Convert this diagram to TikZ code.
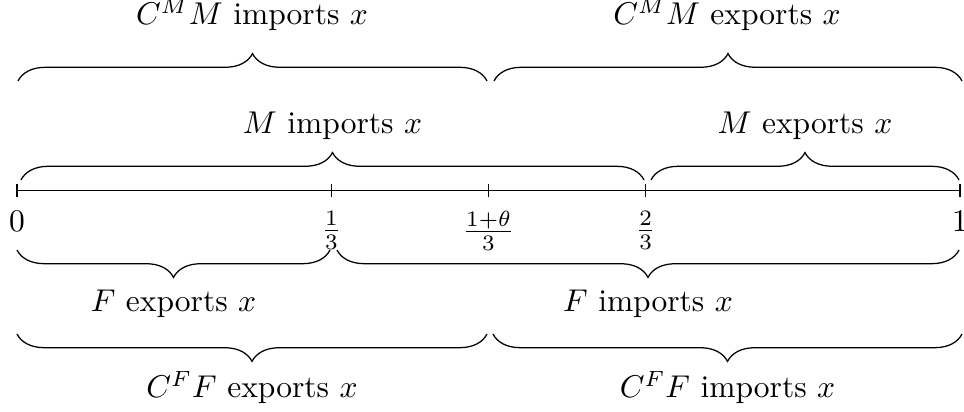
\documentclass[tikz,border=0pt]{standalone}
\usetikzlibrary{decorations.pathreplacing}
\begin{document}
\begin{tikzpicture}[x=0.3175pt,y=-0.3175pt,
  braceup/.style={decorate,decoration={brace,amplitude=8.7pt}},
  bracedown/.style={decorate,decoration={brace,mirror,amplitude=8.7pt}},
  lbl/.style={anchor=base,inner sep=0pt},
  ticklbl/.style={anchor=north,inner sep=0pt},
  tickmark/.style={line width=0.4pt}]
\useasboundingbox (0,0) rectangle (964,412);
% axis
\coordinate (A0) at (17,190.7);
\coordinate (A1) at (331.3,190.7);
\coordinate (AT) at (488.5,190.7);
\coordinate (A2) at (645.7,190.7);
\coordinate (A3) at (960,190.7);
\draw (A0) -- (A3);
\foreach \p in {A0,A1,AT,A2,A3}{
  \draw[tickmark] ([yshift=1.97pt]\p) -- ([yshift=-1.97pt]\p);
}
\node[ticklbl] (t0) at (17,211) {$0$};
\node[ticklbl] (t1) at (331.3,211) {$\frac{1}{3}$};
\node[ticklbl] (tt) at (488.5,211) {$\frac{1+\theta}{3}$};
\node[ticklbl] (t2) at (645.7,211) {$\frac{2}{3}$};
\node[ticklbl] (t3) at (960,211) {$1$};
% brace end points
\coordinate (ma) at (21,180);  \coordinate (mb) at (644,180);
\coordinate (mc) at (651,180); \coordinate (md) at (959,180);
\coordinate (ca) at (18,81);   \coordinate (cb) at (487,81);
\coordinate (cc) at (494,81);  \coordinate (cd) at (962,81);
\coordinate (fa) at (17,250);  \coordinate (fb) at (330,250);
\coordinate (fc) at (337,250); \coordinate (fd) at (959,250);
\coordinate (ga) at (17,334);  \coordinate (gb) at (487,334);
\coordinate (gc) at (493,334); \coordinate (gd) at (962,334);
\draw[braceup] (ma) -- (mb);
\draw[braceup] (mc) -- (md);
\draw[braceup] (ca) -- (cb);
\draw[braceup] (cc) -- (cd);
\draw[bracedown] (fa) -- (fb);
\draw[bracedown] (fc) -- (fd);
\draw[bracedown] (ga) -- (gb);
\draw[bracedown] (gc) -- (gd);
% labels
\node[lbl] (cmi) at (252,25) {$C^M M$ imports $x$};
\node[lbl] (cme) at (727,25) {$C^M M$ exports $x$};
\node[lbl] (mi) at (332.5,134) {$M$ imports $x$};
\node[lbl] (me) at (805,134) {$M$ exports $x$};
\node[lbl] (fe) at (173.5,312) {$F$ exports $x$};
\node[lbl] (fi) at (648,312) {$F$ imports $x$};
\node[lbl] (cfe) at (252,398) {$C^F F$ exports $x$};
\node[lbl] (cfi) at (727.5,398) {$C^F F$ imports $x$};
\end{tikzpicture}
\end{document}
